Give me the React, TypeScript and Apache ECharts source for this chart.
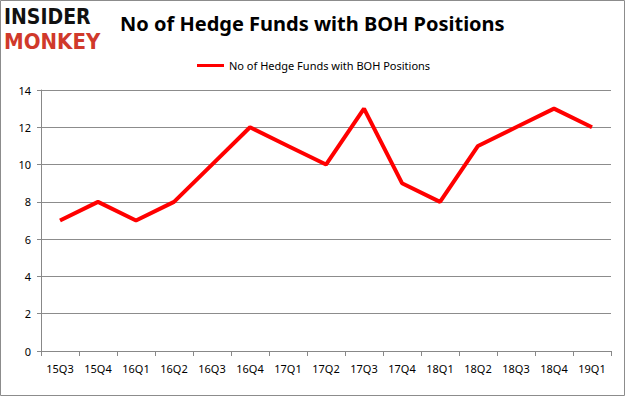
import React, { useEffect, useRef } from "react";
import * as echarts from "echarts";

const categories = ["15Q3", "15Q4", "16Q1", "16Q2", "16Q3", "16Q4", "17Q1", "17Q2", "17Q3", "17Q4", "18Q1", "18Q2", "18Q3", "18Q4", "19Q1"];
const hedgeFunds = [7, 8, 7, 8, 10, 12, 11, 10, 13, 9, 8, 11, 12, 13, 12];
const seriesName = "No of Hedge Funds with BOH Positions";
const titleText = "No of Hedge Funds with BOH Positions";

export default function App() {
  const ref = useRef<HTMLDivElement>(null);
  useEffect(() => {
    if (!ref.current) return;
    const chart = echarts.init(ref.current, null, { renderer: "svg" });
    chart.setOption({
      animation: false,
      backgroundColor: "#ffffff",
      grid: { left: 41, right: 15, top: 90, bottom: 46, containLabel: false },
      legend: {
        data: [seriesName],
        top: 55,
        left: 192,
        itemWidth: 27,
        itemHeight: 3,
        itemGap: 4,
        icon: "rect",
        textStyle: { fontFamily: "Noto Sans", fontSize: 11, color: "#000" },
      },
      graphic: [
        { type: "rect", shape: { x: 0.5, y: 0.5, width: 624, height: 395 }, style: { fill: "none", stroke: "#8c8c8c", lineWidth: 1 } },
        { type: "text", x: 4, y: 6, style: { text: "INSIDER", fill: "#111", font: "900 21px 'DejaVu Sans Condensed', 'DejaVu Sans'" } },
        { type: "text", x: 4, y: 30, style: { text: "MONKEY", fill: "#d0392b", font: "900 22px 'DejaVu Sans Condensed', 'DejaVu Sans'" } },
        { type: "text", x: 120, y: 13, style: { text: titleText, fill: "#000", font: "bold 20px 'Noto Sans'" } },
      ],
      xAxis: {
        type: "category",
        data: categories,
        boundaryGap: true,
        axisLine: { lineStyle: { color: "#888", width: 1 } },
        axisTick: { show: true, length: 5, lineStyle: { color: "#888" }, alignWithLabel: false },
        axisLabel: { color: "#000", fontFamily: "Noto Sans", fontSize: 11, margin: 12, interval: 0 },
      },
      yAxis: {
        type: "value",
        min: 0,
        max: 14,
        interval: 2,
        axisLine: { show: true, lineStyle: { color: "#888" } },
        axisTick: { show: true, length: 4, lineStyle: { color: "#888" } },
        axisLabel: { color: "#000", fontFamily: "Noto Sans", fontSize: 11, margin: 10 },
        splitLine: { lineStyle: { color: "#8c8c8c", width: 1 } },
      },
      series: [
        {
          name: seriesName,
          type: "line",
          data: hedgeFunds,
          showSymbol: false,
          symbol: "none",
          lineStyle: { color: "#ff0000", width: 4 },
          itemStyle: { color: "#ff0000" },
        },
      ],
    });
    return () => chart.dispose();
  }, []);
  return <div ref={ref} style={{ position: "absolute", left: 0, top: 0, width: 626, height: 397 }} />;
}
